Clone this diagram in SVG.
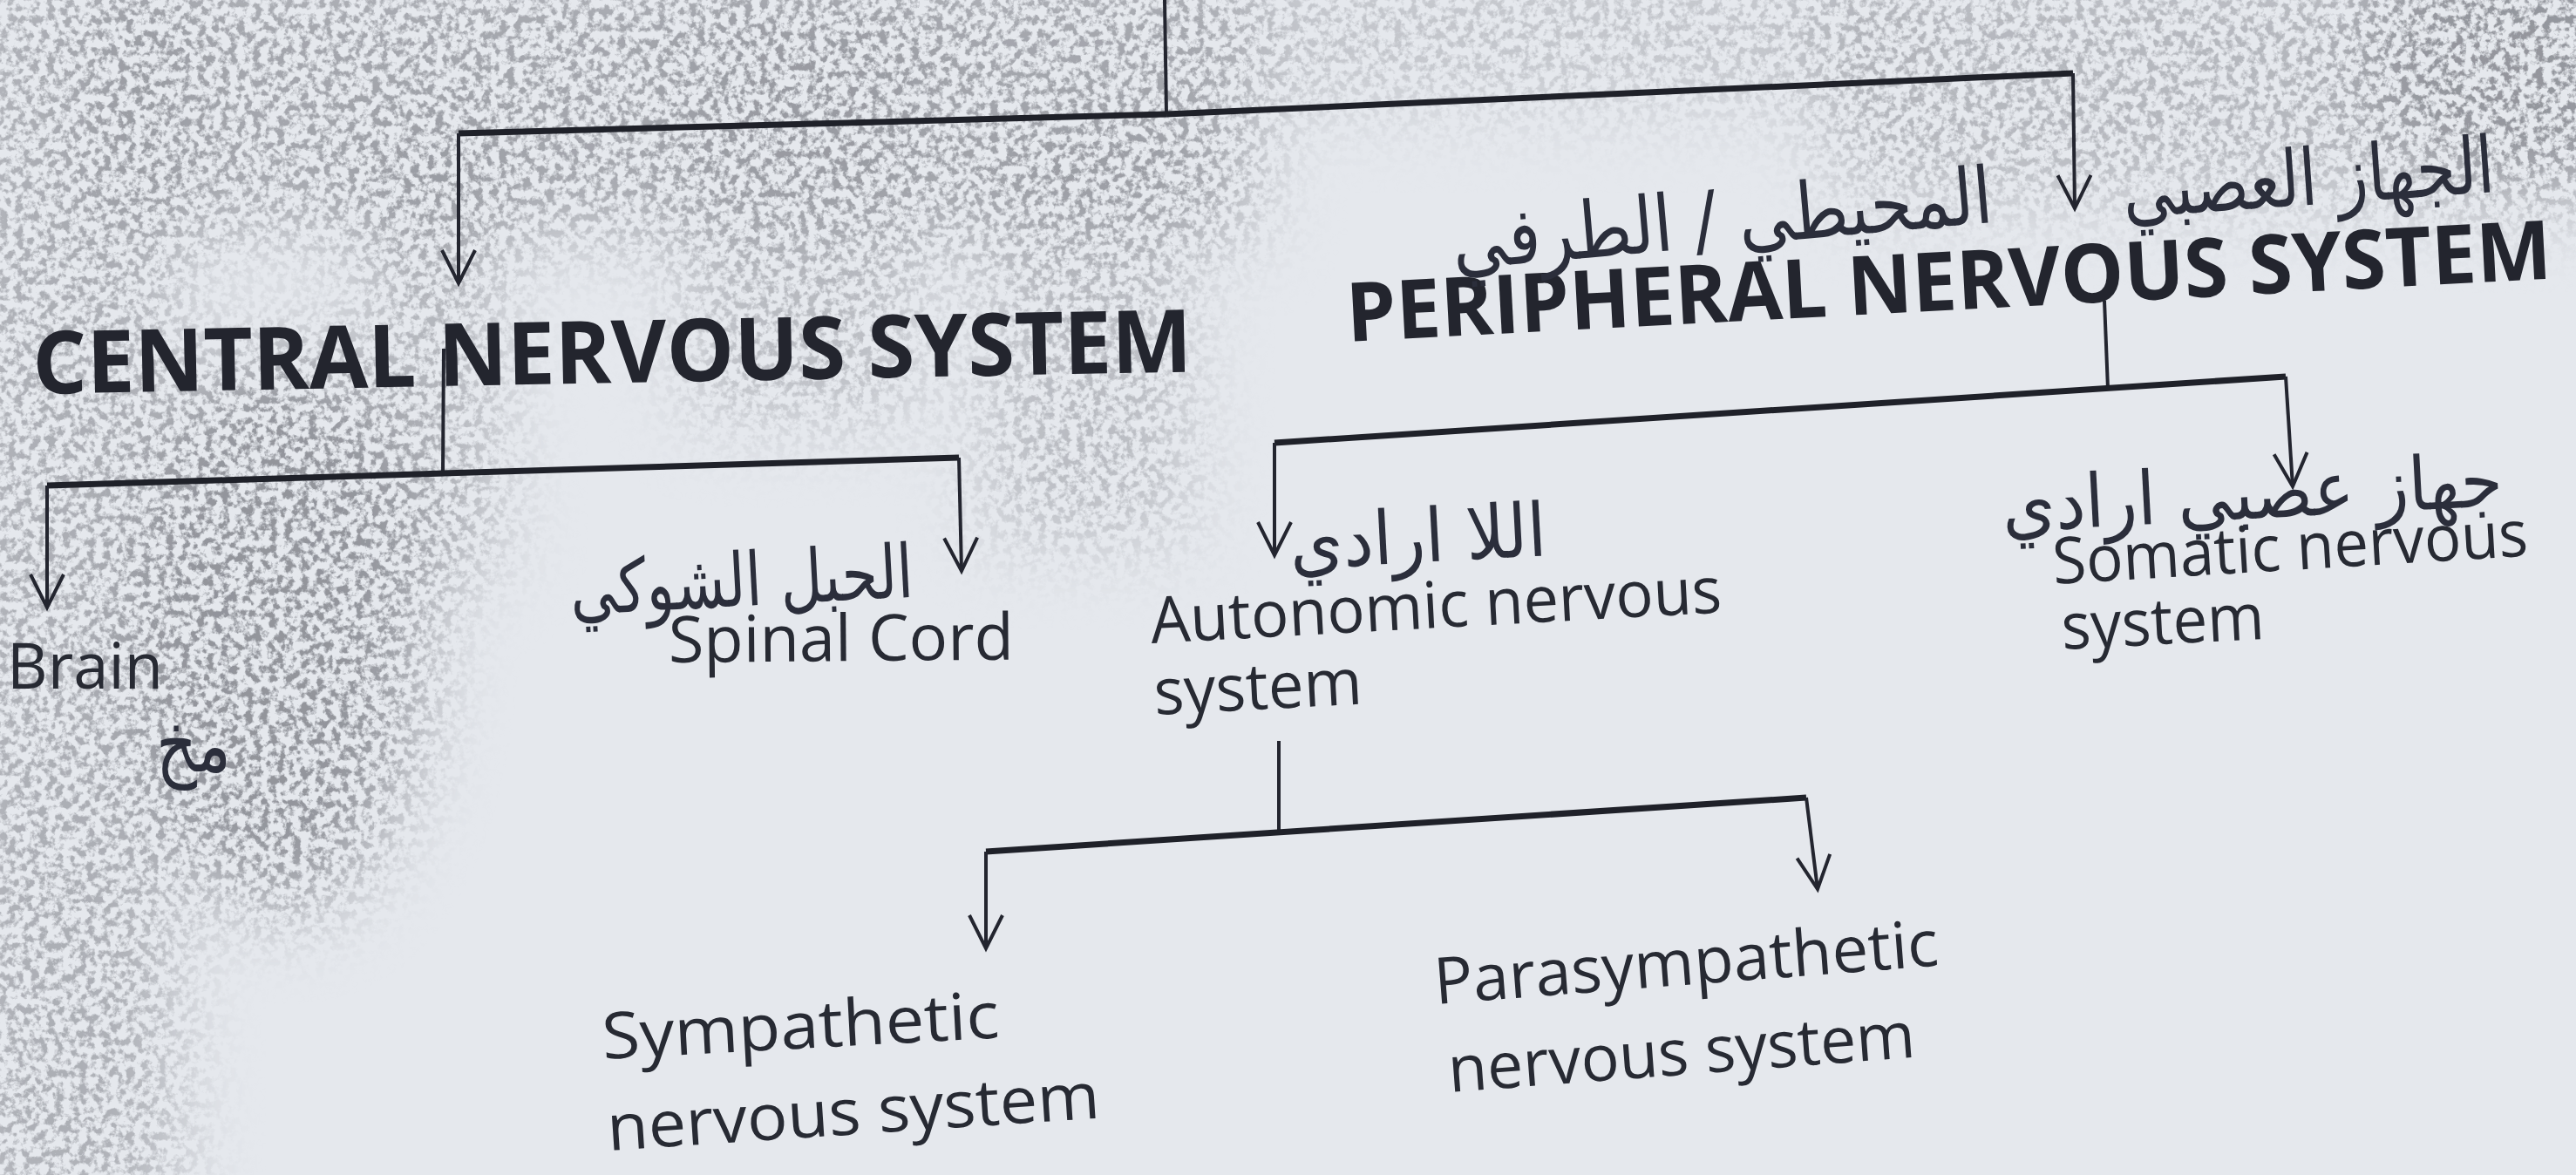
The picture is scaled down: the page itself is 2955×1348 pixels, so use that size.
<svg xmlns="http://www.w3.org/2000/svg" width="2955" height="1348" viewBox="0 0 2955 1348">
<defs>
<style>
.bg{fill:#e5e8ed}
.lbl{font-family:"Open Sans","Liberation Sans",sans-serif;font-size:74px;fill:#272a33}
.big{font-family:"Open Sans","Liberation Sans",sans-serif;font-weight:700;fill:#23252e}
.ar{font-family:"DejaVu Sans","Noto Sans",sans-serif;fill:#2b2e3b;text-anchor:middle}
.h{fill:none;stroke:#1f2129;stroke-width:7;stroke-linejoin:miter}
.v{fill:none;stroke:#23252f;stroke-width:4}
</style>
<marker id="ah" viewBox="-50 -30 60 60" refX="0" refY="0" markerWidth="60" markerHeight="60" markerUnits="userSpaceOnUse" orient="auto">
<path d="M -38 -19 L 0 0 L -38 19" fill="none" stroke="#23252f" stroke-width="4"/>
</marker>
<filter id="grain" x="0" y="0" width="2955" height="1348" filterUnits="userSpaceOnUse">
<feTurbulence type="fractalNoise" baseFrequency="0.11" numOctaves="4" seed="11"/>
<feColorMatrix type="matrix" values="0 0 0 0 0.27  0 0 0 0 0.28  0 0 0 0 0.31  0 0 0 5 -2.2"/>
</filter>
<filter id="soft" x="-50%" y="-50%" width="200%" height="200%"><feGaussianBlur stdDeviation="45"/></filter>
<mask id="dirt" maskUnits="userSpaceOnUse" x="0" y="0" width="2955" height="1348">
<g filter="url(#soft)" fill="#fff">
<rect x="110" y="-50" width="1330" height="320" opacity="0.75"/>
<rect x="-60" y="-50" width="260" height="1450" opacity="0.65"/>
<ellipse cx="320" cy="720" rx="170" ry="330" opacity="0.95"/>
<rect x="420" y="140" width="150" height="520" opacity="0.6"/>
<rect x="790" y="0" width="260" height="480" opacity="0.5"/>
<rect x="1130" y="150" width="230" height="470" opacity="0.5"/>
<rect x="1450" y="-50" width="700" height="170" opacity="0.4"/>
<rect x="2100" y="-50" width="900" height="280" opacity="0.55"/>
<ellipse cx="2900" cy="60" rx="200" ry="170" opacity="0.85"/>
</g>
</mask>
</defs>

<rect class="bg" x="0" y="0" width="2955" height="1348"/>
<rect x="0" y="0" width="2955" height="1348" filter="url(#grain)" mask="url(#dirt)"/>

<g id="connectors">
<path class="v" d="M 1336 0 L 1338 131"/>
<path class="h" d="M 1338 131 L 526 153"/>
<path class="v" d="M 526 153 L 526 325" marker-end="url(#ah)"/>
<path class="h" d="M 1338 131 L 2378 84"/>
<path class="v" d="M 2378 84 L 2380 239" marker-end="url(#ah)"/>

<path class="v" d="M 509 400 L 508 545"/>
<path class="h" d="M 54 557 L 1100 525"/>
<path class="v" d="M 54 557 L 54 697" marker-end="url(#ah)"/>
<path class="v" d="M 1100 525 L 1103 655" marker-end="url(#ah)"/>

<path class="v" d="M 2414 345 L 2418 446"/>
<path class="h" d="M 1462 508 L 2622 432"/>
<path class="v" d="M 1462 508 L 1462 637" marker-end="url(#ah)"/>
<path class="v" d="M 2622 432 L 2630 558" marker-end="url(#ah)"/>

<path class="v" d="M 1467 850 L 1467 955"/>
<path class="h" d="M 1131 977 L 2072 915"/>
<path class="v" d="M 1131 977 L 1131 1088" marker-end="url(#ah)"/>
<path class="v" d="M 2072 915 L 2085 1020" marker-end="url(#ah)"/>
</g>

<g id="node-cns">
<text class="big" x="38" y="452" font-size="100" textLength="1330" lengthAdjust="spacingAndGlyphs" transform="rotate(-1.1 38 452)">CENTRAL NERVOUS SYSTEM</text>
</g>

<g id="node-pns">
<text class="big" x="1546" y="392" font-size="94" textLength="1384" lengthAdjust="spacingAndGlyphs" transform="rotate(-3 1546 392)">PERIPHERAL NERVOUS SYSTEM</text>
<text class="ar" x="2650" y="235" font-size="90" textLength="427" lengthAdjust="spacingAndGlyphs" transform="rotate(-4 2650 235)">الجهاز العصبي</text>
<text class="ar" x="1978" y="282" font-size="90" textLength="622" lengthAdjust="spacingAndGlyphs" transform="rotate(-5 1978 282)">المحيطي / الطرفي</text>
</g>

<g id="node-brain">
<text class="lbl" x="8" y="790" textLength="179" lengthAdjust="spacingAndGlyphs">Brain</text>
<text class="ar" x="222" y="885" font-size="90" textLength="86" lengthAdjust="spacingAndGlyphs">مخ</text>
</g>

<g id="node-spinal">
<text class="lbl" x="767" y="760" textLength="396" lengthAdjust="spacingAndGlyphs" transform="rotate(-0.5 767 760)">Spinal Cord</text>
<text class="ar" x="852" y="695" font-size="85" textLength="394" lengthAdjust="spacingAndGlyphs" transform="rotate(-3 852 695)">الحبل الشوكي</text>
</g>

<g id="node-ans">
<text class="lbl" x="1321" y="738" textLength="656" lengthAdjust="spacingAndGlyphs" transform="rotate(-3.1 1321 738)">Autonomic nervous</text>
<text class="lbl" x="1325" y="820" textLength="239" lengthAdjust="spacingAndGlyphs" transform="rotate(-3 1325 820)">system</text>
<text class="ar" x="1628" y="645" font-size="85" textLength="295" lengthAdjust="spacingAndGlyphs" transform="rotate(-3 1628 645)">اللا ارادي</text>
</g>

<g id="node-sns">
<text class="lbl" x="2356" y="670" textLength="546" lengthAdjust="spacingAndGlyphs" transform="rotate(-3.4 2356 670)">Somatic nervous</text>
<text class="lbl" x="2366" y="745" textLength="233" lengthAdjust="spacingAndGlyphs" transform="rotate(-3 2366 745)">system</text>
<text class="ar" x="2585" y="595" font-size="85" textLength="575" lengthAdjust="spacingAndGlyphs" transform="rotate(-3 2585 595)">جهاز عصبي ارادي</text>
</g>

<g id="node-symp">
<text class="lbl" x="692" y="1215" font-size="78" textLength="456" lengthAdjust="spacingAndGlyphs" transform="rotate(-3.1 692 1215)">Sympathetic</text>
<text class="lbl" x="698" y="1320" font-size="78" textLength="566" lengthAdjust="spacingAndGlyphs" transform="rotate(-3.8 698 1320)">nervous system</text>
</g>

<g id="node-para">
<text class="lbl" x="1647" y="1152" font-size="78" textLength="580" lengthAdjust="spacingAndGlyphs" transform="rotate(-4.4 1647 1152)">Parasympathetic</text>
<text class="lbl" x="1663" y="1253" font-size="78" textLength="537" lengthAdjust="spacingAndGlyphs" transform="rotate(-4.3 1663 1253)">nervous system</text>
</g>
</svg>
